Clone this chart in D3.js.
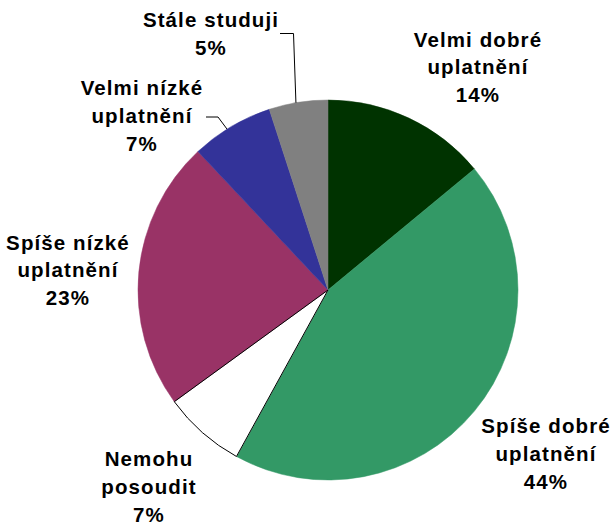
<!DOCTYPE html>
<html>
<head>
<meta charset="utf-8">
<script src="https://cdn.jsdelivr.net/npm/d3@7/dist/d3.min.js"></script>
<style>
  html, body { margin: 0; padding: 0; background: #fff; }
  svg { display: block; }
  .lbl { font-family: "Liberation Sans", Arial, sans-serif; font-weight: bold; font-size: 20.5px; letter-spacing: 1.1px; fill: #000; }
</style>
</head>
<body>
<svg id="chart" width="613" height="525"></svg>
<script>
// Data
const categories = ["Velmi dobré uplatnění", "Spíše dobré uplatnění", "Nemohu posoudit", "Spíše nízké uplatnění", "Velmi nízké uplatnění", "Stále studuji"];
const labelLines = [["Velmi dobré", "uplatnění"], ["Spíše dobré", "uplatnění"], ["Nemohu", "posoudit"], ["Spíše nízké", "uplatnění"], ["Velmi nízké", "uplatnění"], ["Stále studuji"]];
const values = [14, 44, 7, 23, 7, 5];
const colors = ["#003300", "#339966", "#ffffff", "#993366", "#333399", "#808080"];

// Layout
const cx = 328, cy = 290, r = 190;
const labelPos = [[478, 46.5], [546, 433], [149, 466], [68, 249.5], [142, 95], [211, 27]];
const lineH = 27.8;

const svg = d3.select("#chart");
const g = svg.append("g").attr("transform", `translate(${cx},${cy})`);

const pie = d3.pie().sort(null).value(d => d.value);
const arc = d3.arc().innerRadius(0).outerRadius(r);
const data = categories.map((c, i) => ({ cat: c, value: values[i], color: colors[i], lines: labelLines[i], pos: labelPos[i] }));
const arcs = pie(data);

g.selectAll("path.slice").data(arcs).enter().append("path")
  .attr("class", "slice")
  .attr("d", arc)
  .attr("fill", d => d.data.color)
  .attr("stroke", d => d.data.color)
  .attr("stroke-width", 0.5)
  .attr("stroke-linejoin", "round");

// outline of the white slice on top
g.selectAll("path.outline").data(arcs.filter(d => d.data.color === "#ffffff")).enter().append("path")
  .attr("class", "outline")
  .attr("d", arc).attr("fill", "none").attr("stroke", "#000").attr("stroke-width", 1);

// Leader lines
const leaders = [
  { i: 5, frac: 0.46, pts: [[280, 33.5], [293.5, 33.5]] },
  { i: 4, frac: 0.44, pts: [[206, 117], [218, 117]] }
];
leaders.forEach(l => {
  const a = arcs[l.i];
  const ang = a.startAngle + (a.endAngle - a.startAngle) * l.frac;
  const ex = cx + r * Math.sin(ang), ey = cy - r * Math.cos(ang);
  const pts = l.pts.concat([[ex, ey]]);
  svg.append("path")
    .attr("d", d3.line()(pts))
    .attr("fill", "none").attr("stroke", "#000").attr("stroke-width", 1);
});

// Labels
const labels = svg.selectAll("text.lbl").data(arcs).enter().append("text")
  .attr("class", "lbl")
  .attr("text-anchor", "middle");
labels.each(function(d) {
  const t = d3.select(this);
  const lines = d.data.lines.concat([d.data.value + "%"]);
  lines.forEach((ln, k) => {
    t.append("tspan").attr("x", d.data.pos[0]).attr("y", d.data.pos[1] + k * lineH).text(ln);
  });
});
</script>
</body>
</html>
